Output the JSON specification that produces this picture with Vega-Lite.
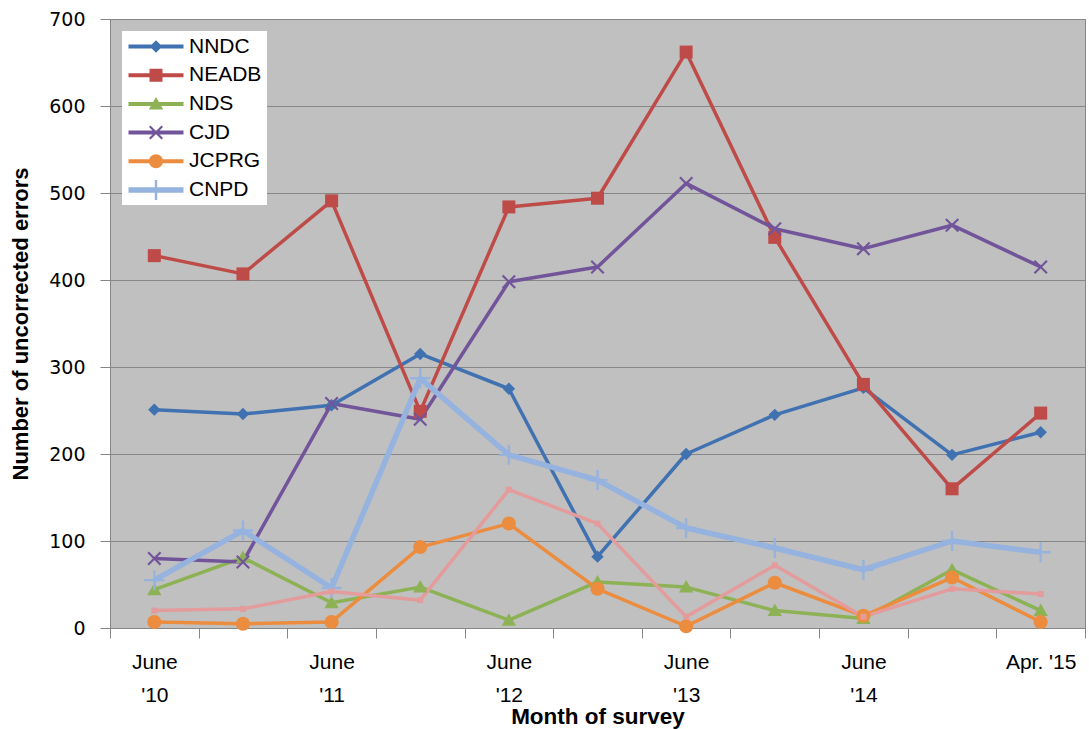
{
  "$schema": "https://vega.github.io/schema/vega-lite/v6.json",
  "autosize": {"type": "none"},
  "width": 975,
  "height": 609,
  "padding": {"left": 110, "top": 19, "right": 4, "bottom": 101},
  "background": "white",
  "config": {
    "view": {"fill": "#C0C0C0", "stroke": "#868686", "strokeWidth": 1},
    "axis": {"labelColor": "#000000", "titleColor": "#000000", "domainColor": "#868686", "tickColor": "#868686", "gridColor": "#878787"},
    "legend": {
      "orient": "top-left",
      "offset": 12,
      "fillColor": "white",
      "padding": 5,
      "labelFont": "Liberation Sans",
      "labelFontSize": 21,
      "labelColor": "#000000",
      "labelOffset": 41,
      "labelLimit": 300,
      "rowPadding": 6.7,
      "symbolSize": 400,
      "symbolOpacity": 1,
      "symbolStrokeWidth": 0
    }
  },
  "data": {
    "values": [
      {"series": "NNDC", "month": "June '10", "i": 0, "errors": 251},
      {"series": "NNDC", "month": "Dec. '10", "i": 1, "errors": 246},
      {"series": "NNDC", "month": "June '11", "i": 2, "errors": 256},
      {"series": "NNDC", "month": "Dec. '11", "i": 3, "errors": 315},
      {"series": "NNDC", "month": "June '12", "i": 4, "errors": 275},
      {"series": "NNDC", "month": "Dec. '12", "i": 5, "errors": 82},
      {"series": "NNDC", "month": "June '13", "i": 6, "errors": 200},
      {"series": "NNDC", "month": "Dec. '13", "i": 7, "errors": 245},
      {"series": "NNDC", "month": "June '14", "i": 8, "errors": 276},
      {"series": "NNDC", "month": "Dec. '14", "i": 9, "errors": 199},
      {"series": "NNDC", "month": "Apr. '15", "i": 10, "errors": 225},
      {"series": "NEADB", "month": "June '10", "i": 0, "errors": 428},
      {"series": "NEADB", "month": "Dec. '10", "i": 1, "errors": 407},
      {"series": "NEADB", "month": "June '11", "i": 2, "errors": 491},
      {"series": "NEADB", "month": "Dec. '11", "i": 3, "errors": 249},
      {"series": "NEADB", "month": "June '12", "i": 4, "errors": 484},
      {"series": "NEADB", "month": "Dec. '12", "i": 5, "errors": 494},
      {"series": "NEADB", "month": "June '13", "i": 6, "errors": 662},
      {"series": "NEADB", "month": "Dec. '13", "i": 7, "errors": 449},
      {"series": "NEADB", "month": "June '14", "i": 8, "errors": 280},
      {"series": "NEADB", "month": "Dec. '14", "i": 9, "errors": 160},
      {"series": "NEADB", "month": "Apr. '15", "i": 10, "errors": 247},
      {"series": "NDS", "month": "June '10", "i": 0, "errors": 44},
      {"series": "NDS", "month": "Dec. '10", "i": 1, "errors": 81},
      {"series": "NDS", "month": "June '11", "i": 2, "errors": 29},
      {"series": "NDS", "month": "Dec. '11", "i": 3, "errors": 47},
      {"series": "NDS", "month": "June '12", "i": 4, "errors": 9},
      {"series": "NDS", "month": "Dec. '12", "i": 5, "errors": 53},
      {"series": "NDS", "month": "June '13", "i": 6, "errors": 47},
      {"series": "NDS", "month": "Dec. '13", "i": 7, "errors": 20},
      {"series": "NDS", "month": "June '14", "i": 8, "errors": 11},
      {"series": "NDS", "month": "Dec. '14", "i": 9, "errors": 67},
      {"series": "NDS", "month": "Apr. '15", "i": 10, "errors": 20},
      {"series": "CJD", "month": "June '10", "i": 0, "errors": 80},
      {"series": "CJD", "month": "Dec. '10", "i": 1, "errors": 76},
      {"series": "CJD", "month": "June '11", "i": 2, "errors": 258},
      {"series": "CJD", "month": "Dec. '11", "i": 3, "errors": 240},
      {"series": "CJD", "month": "June '12", "i": 4, "errors": 398},
      {"series": "CJD", "month": "Dec. '12", "i": 5, "errors": 415},
      {"series": "CJD", "month": "June '13", "i": 6, "errors": 511},
      {"series": "CJD", "month": "Dec. '13", "i": 7, "errors": 459},
      {"series": "CJD", "month": "June '14", "i": 8, "errors": 436},
      {"series": "CJD", "month": "Dec. '14", "i": 9, "errors": 463},
      {"series": "CJD", "month": "Apr. '15", "i": 10, "errors": 415},
      {"series": "JCPRG", "month": "June '10", "i": 0, "errors": 7},
      {"series": "JCPRG", "month": "Dec. '10", "i": 1, "errors": 5},
      {"series": "JCPRG", "month": "June '11", "i": 2, "errors": 7},
      {"series": "JCPRG", "month": "Dec. '11", "i": 3, "errors": 93},
      {"series": "JCPRG", "month": "June '12", "i": 4, "errors": 120},
      {"series": "JCPRG", "month": "Dec. '12", "i": 5, "errors": 45},
      {"series": "JCPRG", "month": "June '13", "i": 6, "errors": 2},
      {"series": "JCPRG", "month": "Dec. '13", "i": 7, "errors": 52},
      {"series": "JCPRG", "month": "June '14", "i": 8, "errors": 14},
      {"series": "JCPRG", "month": "Dec. '14", "i": 9, "errors": 58},
      {"series": "JCPRG", "month": "Apr. '15", "i": 10, "errors": 7},
      {"series": "CNPD", "month": "June '10", "i": 0, "errors": 55},
      {"series": "CNPD", "month": "Dec. '10", "i": 1, "errors": 112},
      {"series": "CNPD", "month": "June '11", "i": 2, "errors": 46},
      {"series": "CNPD", "month": "Dec. '11", "i": 3, "errors": 287},
      {"series": "CNPD", "month": "June '12", "i": 4, "errors": 199},
      {"series": "CNPD", "month": "Dec. '12", "i": 5, "errors": 170},
      {"series": "CNPD", "month": "June '13", "i": 6, "errors": 115},
      {"series": "CNPD", "month": "Dec. '13", "i": 7, "errors": 92},
      {"series": "CNPD", "month": "June '14", "i": 8, "errors": 67},
      {"series": "CNPD", "month": "Dec. '14", "i": 9, "errors": 100},
      {"series": "CNPD", "month": "Apr. '15", "i": 10, "errors": 87},
      {"series": "Other", "month": "June '10", "i": 0, "errors": 20},
      {"series": "Other", "month": "Dec. '10", "i": 1, "errors": 22},
      {"series": "Other", "month": "June '11", "i": 2, "errors": 42},
      {"series": "Other", "month": "Dec. '11", "i": 3, "errors": 32},
      {"series": "Other", "month": "June '12", "i": 4, "errors": 159},
      {"series": "Other", "month": "Dec. '12", "i": 5, "errors": 120},
      {"series": "Other", "month": "June '13", "i": 6, "errors": 13},
      {"series": "Other", "month": "Dec. '13", "i": 7, "errors": 72},
      {"series": "Other", "month": "June '14", "i": 8, "errors": 13},
      {"series": "Other", "month": "Dec. '14", "i": 9, "errors": 45},
      {"series": "Other", "month": "Apr. '15", "i": 10, "errors": 39}
    ]
  },
  "encoding": {
    "x": {
      "field": "i", "type": "quantitative",
      "scale": {"domain": [-0.5, 10.5], "nice": false, "zero": false},
      "axis": {
        "values": [-0.5, 0, 0.5, 1, 1.5, 2, 2.5, 3, 3.5, 4, 4.5, 5, 5.5, 6, 6.5, 7, 7.5, 8, 8.5, 9, 9.5, 10, 10.5],
        "labelExpr": "datum.value == 10 ? \"Apr. '15\" : ((datum.value >= 0 && datum.value % 2 == 0) ? ['June', \"'\" + (10 + datum.value / 2)] : '')",
        "tickOpacity": {"condition": {"test": "datum.value % 1 == 0", "value": 0}, "value": 1},
        "tickSize": 10,
        "grid": false,
        "labelOverlap": false,
        "labelFlush": false,
        "labelBound": false,
        "labelFont": "Liberation Sans",
        "labelFontSize": 21,
        "labelLineHeight": 33,
        "labelPadding": 13,
        "title": "Month of survey",
        "titleFont": "Liberation Sans",
        "titleFontSize": 22.5,
        "titleFontWeight": "bold",
        "titlePadding": 0
      }
    },
    "y": {
      "field": "errors", "type": "quantitative",
      "scale": {"domain": [0, 700], "nice": false},
      "axis": {
        "values": [0, 100, 200, 300, 400, 500, 600, 700],
        "tickSize": 10,
        "grid": true,
        "labelFont": "DejaVu Sans",
        "labelFontSize": 19,
        "labelPadding": 15,
        "title": "Number of uncorrected errors",
        "titleFont": "Liberation Sans",
        "titleFontSize": 22,
        "titleFontWeight": "bold",
        "titlePadding": 16
      }
    },
    "color": {
      "field": "series", "type": "nominal",
      "scale": {
        "domain": ["NNDC", "NEADB", "NDS", "CJD", "JCPRG", "CNPD", "Other"],
        "range": ["#4071B0", "#BE4B48", "#8DB255", "#71549A", "#EC8C3F", "#95B3DE", "#E49B9B"]
      },
      "legend": null
    }
  },
  "layer": [
    {
      "transform": [{"filter": "datum.series != 'CNPD'"}],
      "mark": {"type": "line", "strokeWidth": 3.5, "strokeJoin": "round"}
    },
    {
      "transform": [{"filter": "datum.series == 'CNPD'"}],
      "mark": {"type": "line", "strokeWidth": 5.5, "strokeJoin": "round"}
    },
    {
      "mark": {"type": "point", "filled": true, "opacity": 1, "size": 400, "strokeWidth": 0},
      "encoding": {
        "shape": {
          "field": "series", "type": "nominal",
          "scale": {
            "domain": ["NNDC", "NEADB", "NDS", "CJD", "JCPRG", "CNPD", "Other"],
            "range": [
              "M0,-0.62L0.62,0L0,0.62L-0.62,0Z",
              "M-0.65,-0.65L0.65,-0.65L0.65,0.65L-0.65,0.65Z",
              "M0,-0.7L0.72,0.55L-0.72,0.55Z",
              "M-0.7,-0.55L-0.55,-0.7L0,-0.15L0.55,-0.7L0.7,-0.55L0.15,0L0.7,0.55L0.55,0.7L0,0.15L-0.55,0.7L-0.7,0.55L-0.15,0Z",
              "M-0.7,0A0.7,0.7 0 1 1 0.7,0A0.7,0.7 0 1 1 -0.7,0Z",
              "M-1,-0.12L-0.12,-0.12L-0.12,-1L0.12,-1L0.12,-0.12L1,-0.12L1,0.12L0.12,0.12L0.12,1L-0.12,1L-0.12,0.12L-1,0.12Z",
              "M-0.3,-0.3L0.3,-0.3L0.3,0.3L-0.3,0.3Z"
            ]
          },
          "legend": null
        }
      }
    },
    {
      "transform": [{"filter": "datum.series == 'none'"}],
      "mark": {"type": "point", "filled": true, "opacity": 1, "size": 400, "strokeWidth": 0},
      "encoding": {
        "color": {
          "field": "series", "type": "nominal",
          "scale": {
            "domain": ["NNDC", "NEADB", "NDS", "CJD", "JCPRG", "CNPD", "Other"],
            "range": ["#4071B0", "#BE4B48", "#8DB255", "#71549A", "#EC8C3F", "#95B3DE", "#E49B9B"]
          },
          "legend": {"values": ["NNDC", "NEADB", "NDS", "CJD", "JCPRG", "CNPD"], "title": null}
        },
        "shape": {
          "field": "series", "type": "nominal",
          "scale": {
            "domain": ["NNDC", "NEADB", "NDS", "CJD", "JCPRG", "CNPD", "Other"],
            "range": [
              "M-0.9,-0.2L4.6,-0.2L4.6,0.2L-0.9,0.2Z M1.85,-0.62L2.47,0L1.85,0.62L1.23,0Z",
              "M-0.9,-0.2L4.6,-0.2L4.6,0.2L-0.9,0.2Z M1.2,-0.65L2.5,-0.65L2.5,0.65L1.2,0.65Z",
              "M-0.9,-0.2L4.6,-0.2L4.6,0.2L-0.9,0.2Z M1.85,-0.7L2.57,0.55L1.13,0.55Z",
              "M-0.9,-0.2L4.6,-0.2L4.6,0.2L-0.9,0.2Z M1.15,-0.55L1.3,-0.7L1.85,-0.15L2.4,-0.7L2.55,-0.55L2,0L2.55,0.55L2.4,0.7L1.85,0.15L1.3,0.7L1.15,0.55L1.7,0Z",
              "M-0.9,-0.2L4.6,-0.2L4.6,0.2L-0.9,0.2Z M1.15,0A0.7,0.7 0 1 1 2.55,0A0.7,0.7 0 1 1 1.15,0Z",
              "M-0.9,-0.28L4.6,-0.28L4.6,0.28L-0.9,0.28Z M1.73,-1L1.97,-1L1.97,1L1.73,1Z",
              "M-0.9,-0.2L4.6,-0.2L4.6,0.2L-0.9,0.2Z"
            ]
          },
          "legend": {"values": ["NNDC", "NEADB", "NDS", "CJD", "JCPRG", "CNPD"], "title": null}
        }
      }
    }
  ],
  "resolve": {"scale": {"shape": "independent", "color": "independent"}}
}
